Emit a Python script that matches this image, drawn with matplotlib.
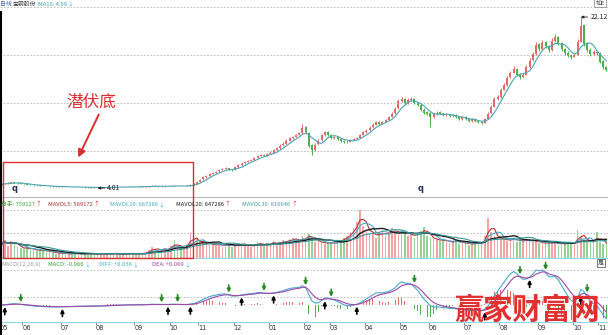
import numpy as np
import pandas as pd
import matplotlib
matplotlib.use('Agg')
import matplotlib.pyplot as plt
from matplotlib.patches import Rectangle, FancyArrowPatch
from matplotlib.lines import Line2D
from matplotlib.text import Annotation
import matplotlib.transforms as mtrans

plt.rcParams['font.family'] = ['Noto Sans CJK SC', 'DejaVu Sans']

# 宝钢股份 daily chart, 2006-05 .. 2007-11 (one bar here = 2 sessions)
opens = [4.38, 4.42, 4.47, 4.55, 4.63, 4.57, 4.50, 4.45, 4.41, 4.37,
         4.33, 4.31, 4.28, 4.25, 4.22, 4.20, 4.19, 4.17, 4.14, 4.16,
         4.14, 4.11, 4.13, 4.11, 4.09, 4.12, 4.10, 4.08, 4.07, 4.05,
         4.05, 4.03, 4.05, 4.08, 4.10, 4.09, 4.10, 4.12, 4.10, 4.11,
         4.13, 4.12, 4.14, 4.13, 4.15, 4.14, 4.16, 4.19, 4.25, 4.21,
         4.19, 4.17, 4.19, 4.22, 4.27, 4.24, 4.21, 4.20, 4.22, 4.25,
         4.35, 4.47, 4.66, 4.92, 5.16, 5.32, 5.50, 5.62, 5.76, 5.92,
         6.02, 6.12, 5.97, 5.92, 6.22, 6.42, 6.62, 6.76, 6.92, 7.02,
         7.22, 7.42, 7.55, 7.42, 7.62, 7.77, 8.02, 8.22, 8.52, 8.72,
         9.02, 9.32, 9.42, 9.62, 9.82, 10.45, 9.85, 8.55, 8.05, 8.62,
         9.05, 9.62, 9.92, 9.62, 9.32, 9.42, 9.22, 9.02, 8.88, 8.92,
         9.12, 9.22, 9.32, 9.62, 9.92, 10.12, 10.42, 10.72, 11.05, 10.82,
         11.02, 11.22, 11.52, 11.92, 12.45, 13.22, 13.45, 13.02, 13.32, 13.45,
         13.02, 12.82, 12.32, 12.02, 11.95, 11.52, 11.82, 12.02, 11.92, 11.72,
         11.82, 11.62, 11.72, 11.52, 11.32, 11.52, 11.32, 11.12, 11.32, 11.12,
         11.02, 10.92, 11.32, 11.92, 12.62, 13.42, 13.62, 14.42, 14.92, 15.72,
         16.22, 16.65, 16.05, 15.82, 16.02, 16.82, 17.52, 18.22, 19.25, 18.72,
         19.45, 19.05, 18.62, 19.62, 20.05, 19.35, 18.75, 18.35, 18.05, 17.92,
         18.12, 19.52, 21.25, 19.35, 18.65, 18.22, 18.42, 18.32, 17.45, 16.85]
highs = [4.46, 4.52, 4.60, 4.68, 4.66, 4.60, 4.53, 4.48, 4.44, 4.40,
         4.36, 4.33, 4.30, 4.27, 4.25, 4.22, 4.21, 4.19, 4.19, 4.18,
         4.16, 4.15, 4.15, 4.13, 4.14, 4.14, 4.12, 4.10, 4.09, 4.07,
         4.07, 4.08, 4.10, 4.13, 4.12, 4.14, 4.15, 4.14, 4.13, 4.16,
         4.15, 4.17, 4.16, 4.18, 4.17, 4.19, 4.26, 4.30, 4.28, 4.24,
         4.22, 4.23, 4.26, 4.32, 4.30, 4.27, 4.24, 4.26, 4.30, 4.42,
         4.52, 4.72, 4.98, 5.25, 5.40, 5.60, 5.70, 5.85, 6.00, 6.10,
         6.22, 6.18, 6.05, 6.30, 6.52, 6.72, 6.88, 7.02, 7.12, 7.32,
         7.52, 7.65, 7.62, 7.72, 7.88, 8.12, 8.35, 8.62, 8.85, 9.15,
         9.45, 9.55, 9.75, 9.95, 10.75, 10.55, 9.95, 8.65, 8.75, 9.15,
         9.75, 10.05, 10.00, 9.70, 9.55, 9.50, 9.30, 9.10, 9.05, 9.25,
         9.35, 9.45, 9.75, 10.05, 10.25, 10.55, 10.85, 11.15, 11.15, 11.15,
         11.35, 11.65, 12.05, 12.60, 13.40, 13.60, 13.55, 13.50, 13.60, 13.55,
         13.15, 12.90, 12.45, 12.15, 12.05, 11.95, 12.15, 12.15, 12.00, 11.95,
         11.90, 11.85, 11.80, 11.60, 11.65, 11.60, 11.40, 11.45, 11.40, 11.20,
         11.10, 11.45, 12.05, 12.80, 13.60, 13.85, 14.60, 15.10, 15.90, 16.40,
         16.90, 16.75, 16.20, 16.15, 17.00, 17.75, 18.45, 19.45, 19.40, 19.65,
         19.60, 19.20, 19.85, 20.30, 20.15, 19.45, 18.85, 18.50, 18.20, 18.30,
         19.75, 22.12, 21.30, 19.50, 18.80, 18.60, 18.55, 18.40, 17.55, 16.95]
lows = [4.35, 4.39, 4.44, 4.52, 4.54, 4.47, 4.42, 4.37, 4.35, 4.30,
        4.27, 4.25, 4.22, 4.19, 4.17, 4.15, 4.14, 4.12, 4.12, 4.11,
        4.09, 4.09, 4.08, 4.07, 4.07, 4.07, 4.05, 4.04, 4.03, 4.02,
        4.01, 4.02, 4.04, 4.06, 4.06, 4.07, 4.08, 4.07, 4.08, 4.09,
        4.09, 4.10, 4.10, 4.11, 4.11, 4.12, 4.14, 4.17, 4.18, 4.15,
        4.14, 4.15, 4.17, 4.20, 4.21, 4.18, 4.17, 4.18, 4.20, 4.23,
        4.30, 4.44, 4.62, 4.88, 5.10, 5.28, 5.45, 5.58, 5.72, 5.88,
        5.98, 5.90, 5.82, 5.88, 6.18, 6.38, 6.58, 6.72, 6.88, 6.98,
        7.18, 7.38, 7.35, 7.38, 7.58, 7.72, 7.98, 8.18, 8.48, 8.68,
        8.98, 9.25, 9.38, 9.58, 9.78, 9.80, 8.40, 7.50, 7.95, 8.55,
        8.98, 9.55, 9.50, 9.20, 9.25, 9.10, 8.90, 8.80, 8.78, 8.85,
        9.05, 9.15, 9.28, 9.58, 9.88, 10.08, 10.38, 10.68, 10.65, 10.75,
        10.98, 11.18, 11.48, 11.88, 12.40, 13.15, 12.85, 12.95, 13.25, 12.90,
        12.70, 12.15, 11.90, 11.75, 10.50, 11.45, 11.75, 11.80, 11.60, 11.65,
        11.50, 11.55, 11.40, 11.20, 11.25, 11.20, 11.00, 11.05, 11.00, 10.90,
        10.80, 10.88, 11.28, 11.88, 12.55, 13.30, 13.55, 14.35, 14.85, 15.65,
        16.15, 15.85, 15.60, 15.75, 15.95, 16.75, 17.45, 18.15, 18.55, 18.65,
        18.85, 18.45, 18.55, 19.50, 19.15, 18.55, 18.15, 17.85, 17.70, 17.85,
        18.05, 19.45, 19.10, 18.45, 18.00, 18.10, 18.15, 17.30, 16.60, 16.40]
closes = [4.42, 4.48, 4.55, 4.62, 4.58, 4.50, 4.45, 4.40, 4.38, 4.33,
          4.30, 4.28, 4.25, 4.22, 4.20, 4.18, 4.17, 4.15, 4.16, 4.14,
          4.12, 4.13, 4.11, 4.10, 4.12, 4.10, 4.08, 4.07, 4.05, 4.04,
          4.03, 4.06, 4.08, 4.10, 4.09, 4.11, 4.12, 4.10, 4.11, 4.13,
          4.12, 4.14, 4.13, 4.15, 4.14, 4.16, 4.20, 4.24, 4.20, 4.18,
          4.17, 4.19, 4.22, 4.26, 4.24, 4.21, 4.20, 4.22, 4.25, 4.35,
          4.45, 4.65, 4.90, 5.15, 5.30, 5.50, 5.60, 5.75, 5.90, 6.00,
          6.10, 5.95, 5.90, 6.20, 6.40, 6.60, 6.75, 6.90, 7.00, 7.20,
          7.40, 7.50, 7.40, 7.60, 7.75, 8.00, 8.20, 8.50, 8.70, 9.00,
          9.30, 9.40, 9.60, 9.80, 10.40, 9.90, 8.50, 8.00, 8.60, 9.00,
          9.60, 9.90, 9.60, 9.30, 9.40, 9.20, 9.00, 8.90, 8.90, 9.10,
          9.20, 9.30, 9.60, 9.90, 10.10, 10.40, 10.70, 11.00, 10.80, 11.00,
          11.20, 11.50, 11.90, 12.40, 13.20, 13.40, 13.00, 13.30, 13.40, 13.00,
          12.80, 12.30, 12.00, 11.90, 11.50, 11.80, 12.00, 11.90, 11.70, 11.80,
          11.60, 11.70, 11.50, 11.30, 11.50, 11.30, 11.10, 11.30, 11.10, 11.00,
          10.90, 11.30, 11.90, 12.60, 13.40, 13.60, 14.40, 14.90, 15.70, 16.20,
          16.60, 16.00, 15.80, 16.00, 16.80, 17.50, 18.20, 19.20, 18.70, 19.40,
          19.00, 18.60, 19.60, 20.00, 19.30, 18.70, 18.30, 18.00, 17.90, 18.10,
          19.50, 21.20, 19.30, 18.60, 18.20, 18.40, 18.30, 17.40, 16.80, 16.50]
# volume in 10k lots
volumes = [70, 90, 60, 85, 75, 55, 50, 45, 55, 40,
           45, 35, 40, 38, 30, 35, 25, 22, 28, 20,
           24, 18, 22, 26, 20, 18, 22, 25, 20, 18,
           24, 20, 22, 19, 25, 21, 23, 20, 18, 22,
           26, 21, 19, 24, 22, 25, 40, 55, 35, 45,
           38, 50, 42, 60, 90, 45, 50, 55, 70, 125,
           80, 95, 70, 85, 75, 65, 70, 60, 75, 55,
           65, 70, 55, 60, 75, 65, 70, 60, 55, 70,
           80, 65, 60, 75, 70, 85, 65, 80, 90, 75,
           95, 100, 90, 80, 110, 95, 120, 100, 80, 85,
           75, 70, 80, 75, 70, 85, 90, 100, 110, 130,
           150, 180, 240, 160, 140, 120, 130, 100, 120, 140,
           110, 125, 150, 130, 115, 140, 120, 110, 130, 100,
           120, 135, 155, 110, 100, 95, 90, 85, 95, 80,
           75, 85, 90, 70, 80, 75, 65, 70, 80, 75,
           70, 110, 200, 130, 110, 95, 100, 90, 85, 95,
           100, 80, 90, 85, 95, 80, 90, 85, 75, 70,
           80, 75, 70, 85, 65, 70, 75, 80, 70, 65,
           140, 110, 90, 80, 85, 75, 130, 80, 70, 75]

month_labels = ['05', '06', '07', '08', '09', '10', '11', '12', '01', '02',
                '03', '04', '05', '06', '07', '08', '09', '10', '11']
month_first_bar = [0, 7, 19, 30, 42, 53, 62, 73, 84, 95,
                   103, 114, 125, 134, 145, 156, 168, 179, 187]
report_bars = [4, 131]   # the little "q" marks

W, H = 608, 335
UP, DOWN = '#e46a6a', '#4caf4c'
VUP, VDOWN = '#f2a4a4', '#96d296'
GRID = dict(color='#b4b4b4', lw=0.6, ls=(0, (2, 2)))
HDR = 4.2   # header font size

o = np.array(opens); h = np.array(highs); l = np.array(lows); c = np.array(closes)
v = np.array(volumes)
x = np.arange(len(c))
up = c >= o
cols = np.where(up, UP, DOWN)

# indicators (spans halved because each bar is 2 sessions)
cs = pd.Series(c)
ma10 = cs.rolling(5, min_periods=1).mean()
vs = pd.Series(v, dtype=float)
mavol = [vs.rolling(n, min_periods=1).mean() for n in (3, 5, 10, 15)]
diff = (cs.ewm(span=6, adjust=False).mean() - cs.ewm(span=13, adjust=False).mean()).values
dea = pd.Series(diff).ewm(span=4.5, adjust=False).mean().values
hist = 2 * (diff - dea)

fig = plt.figure(figsize=(6.08, 3.35), dpi=100, facecolor='white')


def box(top, bottom):
    return [0, (H - bottom) / H, 1, (bottom - top) / H]


def ptext(px, py, s, color, size=HDR, **kw):
    return fig.text(px / W, 1 - py / H, s, color=color, fontsize=size,
                    ha=kw.pop('ha', 'left'), va=kw.pop('va', 'center'), **kw)


def header(py, parts):
    # parts: (text, x px or None, colour); None = stick right after the previous piece
    last = None
    for txt, px, col in parts:
        if px is None:
            last = fig.add_artist(Annotation(
                txt, xy=(1, 0.5), xycoords=last, xytext=(0.6, 0), textcoords='offset points',
                color=col, fontsize=HDR, va='center', ha='left'))
        else:
            last = ptext(px, py, txt, col)


ax_p = fig.add_axes(box(0, 197))
ax_v = fig.add_axes(box(197, 258), sharex=ax_p)
ax_m = fig.add_axes(box(258, 322), sharex=ax_p)
for ax in (ax_p, ax_v, ax_m):
    ax.set_facecolor('none')
    for s in ('top', 'left', 'right'):
        ax.spines[s].set_visible(False)
    ax.tick_params(left=False, labelleft=False)
ax_p.spines['bottom'].set_color('#b8b8b8')
ax_v.spines['bottom'].set_color('#8ed8e6')
ax_m.spines['bottom'].set_color('#8ed8e6')
ax_p.tick_params(bottom=False, labelbottom=False)
ax_v.tick_params(bottom=False, labelbottom=False)
ax_p.set_xlim(-0.5, len(c) - 0.5)


# price panel: pixel row -> price  (4.01 sits at row 188, 9.44 px per yuan)
def row_price(r):
    return 4.01 + (188 - r) / 9.44


ax_p.set_ylim(row_price(197), row_price(0))
ax_p.set_yticks([row_price(r) for r in (7, 55, 103, 151)])
ax_p.yaxis.grid(True, **GRID)
ax_p.vlines(x, l, h, colors=cols, lw=0.7)
ax_p.bar(x, np.maximum(np.abs(c - o), 0.03), bottom=np.minimum(o, c),
         width=0.6, color=cols, linewidth=0)
ax_p.plot(x, ma10, color='#4aa3b5', lw=0.8)

lo_i = int(np.argmin(l)); hi_i = int(np.argmax(h))
for i, val in ((lo_i, l[lo_i]), (hi_i, h[hi_i])):
    ax_p.annotate(f'{val:.2f}', xy=(i, val), xytext=(7, 0), textcoords='offset points',
                  fontsize=5, va='center', ha='left', color='#202020',
                  arrowprops=dict(arrowstyle='-|>', color='#202020', lw=0.6,
                                  mutation_scale=4, shrinkA=0, shrinkB=0))
tr = mtrans.blended_transform_factory(ax_p.transData, ax_p.transAxes)
for i in report_bars:
    ax_p.text(i, 0.02, 'q', transform=tr, fontsize=6, fontweight='bold',
              color='#203060', ha='center', va='bottom', family='DejaVu Sans')

# volume panel
ax_v.set_ylim(0, 305)
ax_v.set_yticks([125, 240])
ax_v.yaxis.grid(True, **GRID)
ax_v.bar(x, v, width=0.55, color=np.where(up, VUP, VDOWN), linewidth=0)
for m, col, lw in zip(mavol, ('#b83030', '#48aacc', '#202020', '#3a9a9a'),
                      (0.8, 0.8, 1.0, 0.8)):
    ax_v.plot(x, m, color=col, lw=lw)

# MACD panel
s = max(diff.max(), dea.max()) / 35
ax_m.set_ylim(-17 * s, 47 * s)
ax_m.set_yticks([8 * s, 35 * s])
ax_m.yaxis.grid(True, **GRID)
ax_m.bar(x, hist, width=0.3, color=np.where(hist >= 0, UP, DOWN), linewidth=0)
ax_m.plot(x, diff, color='#48aacc', lw=0.8)
ax_m.plot(x, dea, color='#a048a8', lw=0.8)
gold = np.where((diff[1:] > dea[1:]) & (diff[:-1] <= dea[:-1]))[0] + 1
dead = np.where((diff[1:] < dea[1:]) & (diff[:-1] >= dea[:-1]))[0] + 1
for i in gold:
    ax_m.annotate('', xy=(i, min(diff[i], dea[i])), xytext=(0, -7), textcoords='offset points',
                  arrowprops=dict(arrowstyle='-|>', color='black', lw=1.2,
                                  mutation_scale=5, shrinkA=0, shrinkB=1.5))
for i in dead:
    ax_m.annotate('', xy=(i, max(diff[i], dea[i])), xytext=(0, 7), textcoords='offset points',
                  arrowprops=dict(arrowstyle='-|>', color='#2a8a2a', lw=1.2,
                                  mutation_scale=5, shrinkA=0, shrinkB=1.5))

ax_m.set_xticks([b - 0.5 for b in month_first_bar])
ax_m.set_xticklabels(month_labels, ha='left', fontsize=4.8, color='#303040',
                     family='DejaVu Sans')
ax_m.tick_params(axis='x', length=2, width=0.6, color='#707070', pad=0.5)

# header lines
header(4, [('日线', 0, '#2f5f9f'), ('宝钢股份', 13, '#404040'),
           ('MA10: 4.59', 38, '#3a9fb5'), ('↓', None, '#20b8e0')])
header(204.5, [('总手: 759127', 1, '#3c9c3c'), ('↑', None, '#e02020'),
               ('MAVOL5: 589172', 48, '#a83030'), ('↑', None, '#e02020'),
               ('MAVOL10: 667388', 110, '#40a8c8'), ('↓', None, '#20b8e0'),
               ('MAVOL20: 847286', 176, '#202020'), ('↑', None, '#e02020'),
               ('MAVOL30: 816646', 242, '#3aa0a8'), ('↑', None, '#e02020')])
header(264.5, [('MACD(12,26,9)', 1, '#a0a0a0'), ('MACD: -0.066', 48, '#30a030'),
               ('↓', None, '#20b8e0'), ('DIFF: +0.036', 99, '#40a8c8'),
               ('↓', None, '#20b8e0'), ('DEA: +0.069', 152, '#a040a0'),
               ('↓', None, '#20b8e0')])
ptext(600, 3, '如E', '#404040', ha='center',
      bbox=dict(boxstyle='square,pad=0.2', fc='white', ec='#909090', lw=0.6))
ptext(601, 263, '是', '#404040', ha='center',
      bbox=dict(boxstyle='square,pad=0.25', fc='white', ec='#606060', lw=0.6))

# left frame edge
fig.add_artist(Line2D([1 / W, 1 / W], [0, 1 - 12 / H], transform=fig.transFigure,
                      color='black', lw=1.5))

# "潜伏底" call-out
fig.add_artist(Rectangle((3 / W, 1 - 258 / H), 190 / W, 96 / H, transform=fig.transFigure,
                         fill=False, ec='#d83030', lw=1.0))
ptext(91, 102, '潜伏底', '#d83030', size=12, ha='center')
fig.add_artist(FancyArrowPatch((100 / W, 1 - 112 / H), (77 / W, 1 - 160 / H),
                               transform=fig.transFigure, arrowstyle='-|>',
                               mutation_scale=11, color='#d83030', lw=1.4))

# watermark
ptext(527, 310, '赢家财富网', '#e03030', size=21, ha='center', zorder=10,
      fontweight='bold')

fig.savefig('out.png', dpi=100, facecolor='white')
